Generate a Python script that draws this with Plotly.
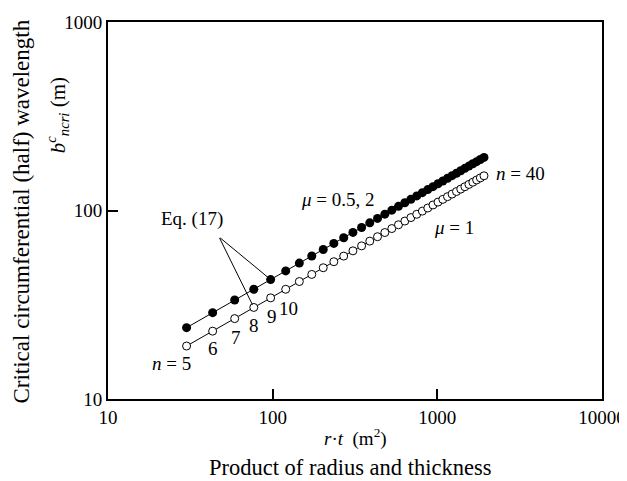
import math
import plotly.graph_objects as go

# r*t (m^2) for n = 5 ... 40
n_vals = list(range(5, 41))
rt = [30, 43.2, 58.8, 76.8, 97.2, 120, 145.2, 172.8, 202.8, 235.2, 270, 307.2,
      346.8, 388.8, 433.2, 480, 529.2, 580.8, 634.8, 691.2, 750, 811.2, 874.8,
      940.8, 1009.2, 1080, 1153.2, 1228.8, 1306.8, 1387.2, 1470, 1555.2, 1642.8,
      1732.8, 1825.2, 1920]
# mu = 0.5, 2 (filled)
b_filled = [23.9, 28.7, 33.5, 38.2, 43.0, 47.8, 52.6, 57.4, 62.1, 66.9, 71.7, 76.5,
            81.3, 86.0, 90.8, 95.6, 100.4, 105.2, 109.9, 114.7, 119.5, 124.3, 129.1,
            133.8, 138.6, 143.4, 148.2, 153.0, 157.7, 162.5, 167.3, 172.1, 176.9,
            181.6, 186.4, 191.2]
# mu = 1 (open)
b_open = [19.1, 22.9, 26.7, 30.6, 34.4, 38.2, 42.0, 45.8, 49.7, 53.5, 57.3, 61.1,
          64.9, 68.8, 72.6, 76.4, 80.2, 84.0, 87.9, 91.7, 95.5, 99.3, 103.1,
          107.0, 110.8, 114.6, 118.4, 122.2, 126.1, 129.9, 133.7, 137.5, 141.3,
          145.2, 149.0, 152.8]
tick_vals = [10, 100, 1000, 10000]
y_tick_vals = [10, 100, 1000]

FONT = "Liberation Serif"
FS = 19

fig = go.Figure()
fig.add_trace(go.Scatter(
    x=rt, y=b_filled, mode="lines+markers",
    line=dict(color="black", width=1),
    marker=dict(symbol="circle", size=9, color="black"),
    showlegend=False))
fig.add_trace(go.Scatter(
    x=rt, y=b_open, mode="lines+markers",
    line=dict(color="black", width=1),
    marker=dict(symbol="circle", size=8, color="white",
                line=dict(color="black", width=1)),
    showlegend=False))

axis_common = dict(type="log", ticks="inside", ticklen=10, tickwidth=2, tickcolor="black",
                   showline=True, linecolor="black", linewidth=2, mirror=True,
                   showgrid=False, zeroline=False, automargin=False,
                   tickfont=dict(family=FONT, size=FS, color="black"))
fig.update_xaxes(range=[1, 4], tickvals=tick_vals,
                 ticktext=[str(v) for v in tick_vals], **axis_common)
fig.update_yaxes(range=[1, 3], tickvals=y_tick_vals,
                 ticktext=[str(v) for v in y_tick_vals], **axis_common)

anns = []
def txt(x, y, t, size=FS, angle=0):
    anns.append(dict(x=x, y=y, xref="paper", yref="paper", text=t, textangle=angle,
                     xanchor="center", yanchor="middle",
                     showarrow=False, font=dict(family=FONT, size=size, color="black")))

txt(0.465, 0.530, "<i>μ</i> = 0.5, 2")
txt(0.701, 0.454, "<i>μ</i> = 1")
txt(0.836, 0.599, "<i>n</i> = 40")
txt(0.128, 0.093, "<i>n</i> = 5")
txt(0.213, 0.135, "6")
txt(0.259, 0.164, "7")
txt(0.296, 0.196, "8")
txt(0.332, 0.218, "9")
txt(0.366, 0.241, "10")
txt(0.170, 0.477, "Eq. (17)")
# axis titles
txt(-0.177, 0.496, "Critical circumferential (half) wavelength", size=23, angle=-90)
txt(-0.103, 0.753, "<i>b</i><sup><i>c</i></sup><sub><i>ncri</i></sub> (m)", size=21, angle=-90)
txt(0.5, -0.101, "<i>r</i>·<i>t</i>  (m<sup>2</sup>)")
txt(0.49, -0.182, "Product of radius and thickness", size=22.5)
# Eq. (17) pointers
anns.append(dict(x=math.log10(rt[4]), y=math.log10(b_filled[4]), xref="x", yref="y",
                 text="", showarrow=True, arrowhead=0, arrowwidth=1, arrowcolor="black",
                 ax=-52, ay=-43, standoff=2))
anns.append(dict(x=math.log10(rt[3]), y=math.log10(b_open[3]), xref="x", yref="y",
                 text="", showarrow=True, arrowhead=0, arrowwidth=1, arrowcolor="black",
                 ax=-35, ay=-71, standoff=3))

# page body adds an 8px offset; figure size and margins compensate
fig.update_layout(width=619, height=473, margin=dict(l=99.5, r=25, t=14, b=82),
                  paper_bgcolor="white", plot_bgcolor="white",
                  annotations=anns)
fig.write_html("out.html")
